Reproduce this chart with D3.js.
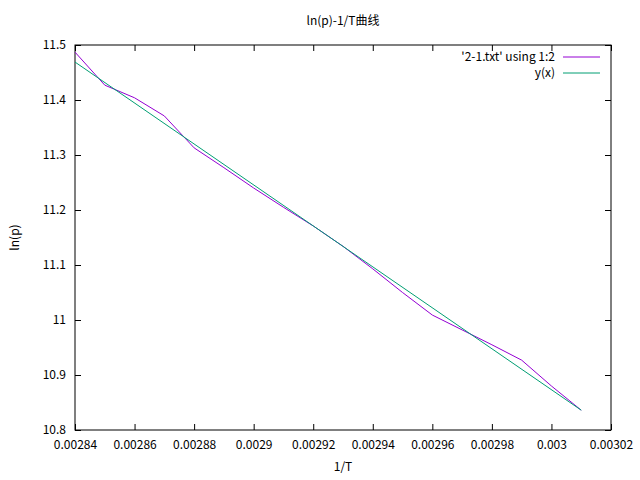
<!DOCTYPE html>
<html><head><meta charset="utf-8">
<script src="https://cdn.jsdelivr.net/npm/d3@7"></script>
<style>body{margin:0;background:#fff}text{font-family:"Noto Sans CJK SC","DejaVu Sans",sans-serif;font-size:12px}</style>
</head><body><div id="vis"></div>
<script>
const xData = [0.00284,0.00285,0.00286,0.00287,0.00288,0.00289,0.00290,0.00291,0.00292,0.00293,0.00294,0.00295,0.00296,0.00297,0.00298,0.00299,0.00300,0.00301];
const yData = [11.487,11.427,11.404,11.371,11.313,11.277,11.240,11.205,11.171,11.134,11.093,11.050,11.009,10.982,10.955,10.927,10.880,10.836];
const fitX = [0.00284,0.00301];
const fitY = [11.469,10.836];
const xTicks = [0.00284,0.00286,0.00288,0.0029,0.00292,0.00294,0.00296,0.00298,0.003,0.00302];
const yTicks = [10.8,10.9,11,11.1,11.2,11.3,11.4,11.5];

const margin = {top:45,right:29,bottom:50,left:75};
const W = 640, H = 480;
const width = W-margin.left-margin.right, height = H-margin.top-margin.bottom;

const svg = d3.select('#vis').append('svg').attr('width',W).attr('height',H)
  .append('g').attr('transform',`translate(${margin.left},${margin.top})`);

const xScale = d3.scaleLinear().domain([0.00284,0.00302]).range([0,width]);
const yScale = d3.scaleLinear().domain([10.8,11.5]).range([height,0]);

const fmt = d => String(+d.toPrecision(6));
const axes = [
  d3.axisBottom(xScale).tickValues(xTicks).tickFormat(fmt).tickSizeInner(-6).tickSizeOuter(0),
  d3.axisLeft(yScale).tickValues(yTicks).tickFormat(fmt).tickSizeInner(-6).tickSizeOuter(0),
  d3.axisTop(xScale).tickValues(xTicks).tickFormat('').tickSizeInner(-6).tickSizeOuter(0),
  d3.axisRight(yScale).tickValues(yTicks).tickFormat('').tickSizeInner(-6).tickSizeOuter(0)
];
const pos = [`translate(0,${height})`,'',`translate(0,0)`,`translate(${width},0)`];
axes.forEach((a,i)=>{
  const g = svg.append('g').attr('transform',pos[i]).call(a);
  g.select('.domain').remove();
  g.selectAll('line').attr('stroke','#000');
  g.selectAll('text').style('font-size','12px').attr('fill','#000');
  if(i==0) g.selectAll('text').attr('dy','1.3em');
  if(i==1) g.selectAll('text').attr('dx','-0.5em');
});
svg.append('rect').attr('width',width).attr('height',height).attr('fill','none').attr('stroke','#000');

const line = d3.line().x(d=>xScale(d[0])).y(d=>yScale(d[1]));
svg.append('path').datum(xData.map((x,i)=>[x,yData[i]])).attr('d',line).attr('fill','none').attr('stroke','#9400d3');
svg.append('path').datum(fitX.map((x,i)=>[x,fitY[i]])).attr('d',line).attr('fill','none').attr('stroke','#009e73');

const legend = [["'2-1.txt' using 1:2",'#9400d3'],['y(x)','#009e73']];
legend.forEach((l,i)=>{
  const y = 12+i*16;
  svg.append('text').attr('x',480).attr('y',y+4).attr('text-anchor','end').text(l[0]);
  svg.append('line').attr('x1',488).attr('x2',525).attr('y1',y).attr('y2',y).attr('stroke',l[1]);
});

svg.append('text').attr('x',width/2).attr('y',-20).attr('text-anchor','middle').text('ln(p)-1/T曲线');
svg.append('text').attr('x',width/2).attr('y',height+41).attr('text-anchor','middle').text('1/T');
svg.append('text').attr('transform','rotate(-90)').attr('x',-height/2).attr('y',-56).attr('text-anchor','middle').text('ln(p)');
</script></body></html>
